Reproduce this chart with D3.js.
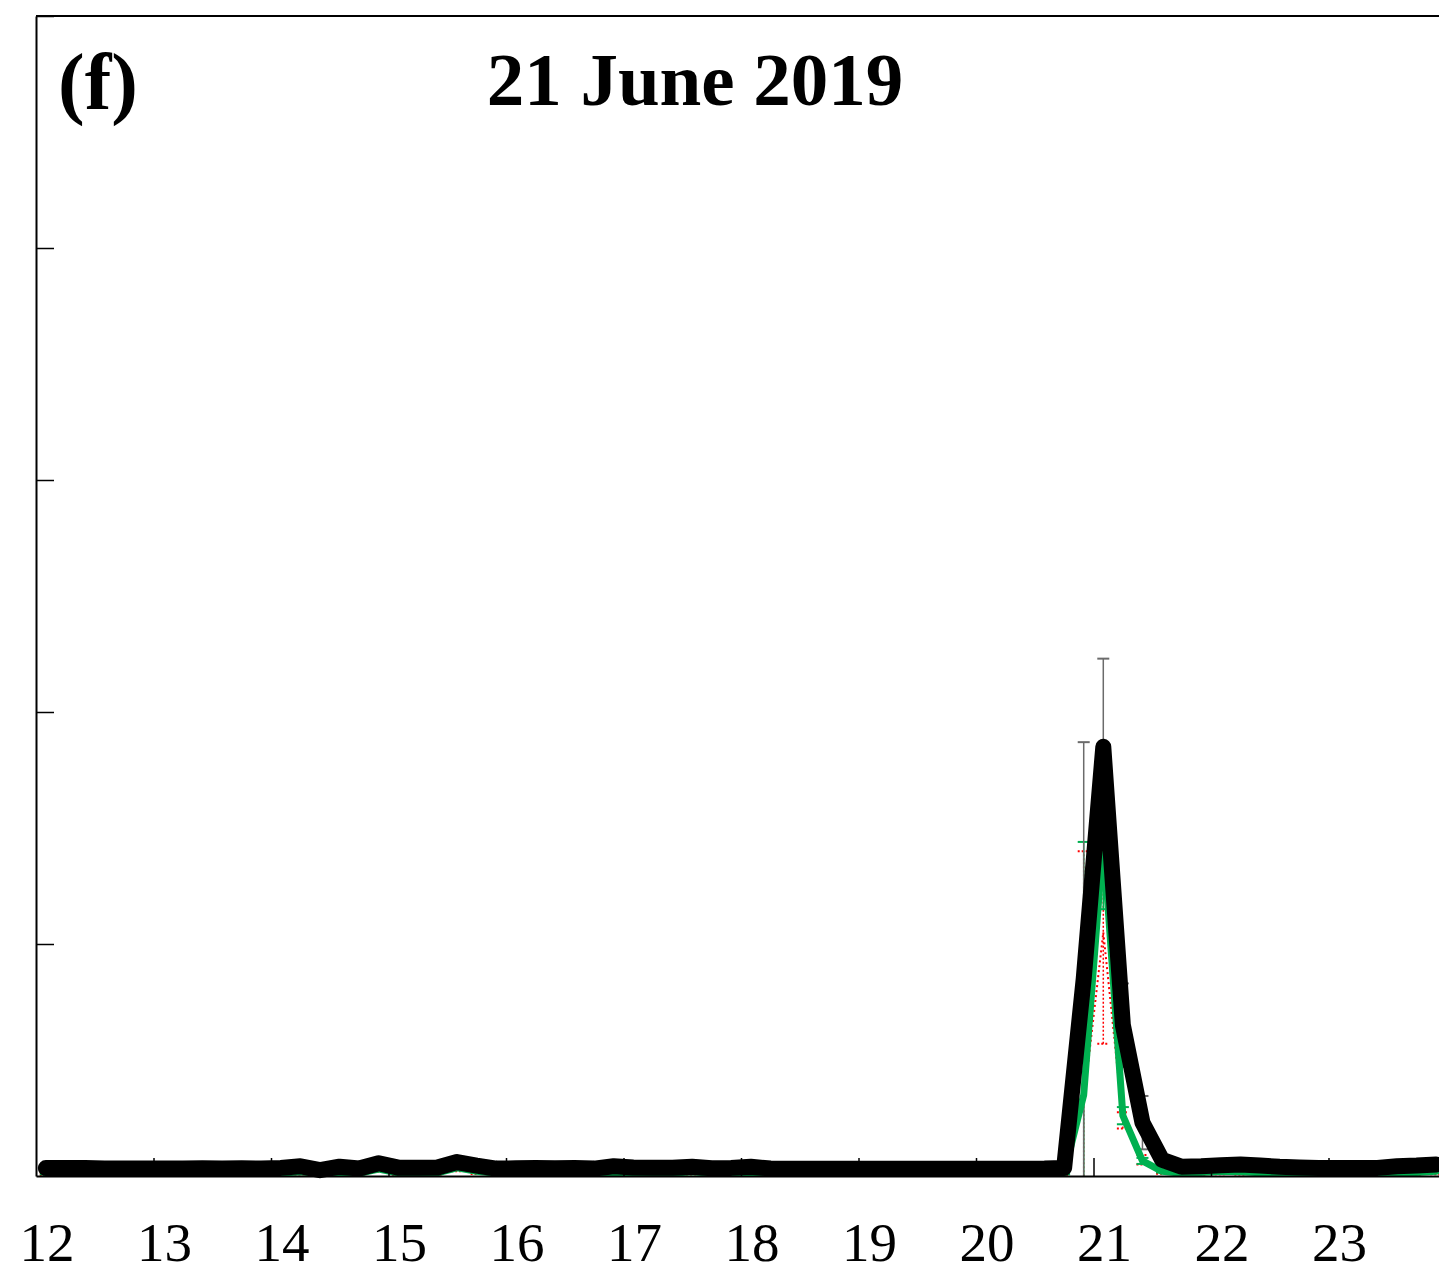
<!DOCTYPE html>
<html>
<head>
<meta charset="utf-8">
<script src="https://cdn.jsdelivr.net/npm/d3@7"></script>
<style>
  html, body { margin: 0; padding: 0; background: #fff; }
  svg { display: block; }
</style>
</head>
<body>
<svg id="chart" width="1439" height="1273"></svg>
<script>
// ---- data ----
const times = [
  "12:05","12:15","12:25","12:35","12:45","12:55",
  "13:05","13:15","13:25","13:35","13:45","13:55",
  "14:05","14:15","14:25","14:35","14:45","14:55",
  "15:05","15:15","15:25","15:35","15:45","15:55",
  "16:05","16:15","16:25","16:35","16:45","16:55",
  "17:05","17:15","17:25","17:35","17:45","17:55",
  "18:05","18:15","18:25","18:35","18:45","18:55",
  "19:05","19:15","19:25","19:35","19:45","19:55",
  "20:05","20:15","20:25","20:35","20:45","20:55",
  "21:05","21:15","21:25","21:35","21:45","21:55",
  "22:05","22:15","22:25","22:35","22:45","22:55",
  "23:05","23:15","23:25","23:35","23:45","23:55"
];
const blackSeries = [
  0.034,0.034,0.035,0.032,0.032,0.032,
  0.032,0.032,0.033,0.032,0.033,0.032,
  0.035,0.042,0.025,0.040,0.032,0.055,
  0.036,0.036,0.037,0.060,0.045,0.032,
  0.033,0.034,0.033,0.034,0.032,0.042,
  0.037,0.036,0.036,0.040,0.033,0.035,
  0.040,0.032,0.031,0.031,0.031,0.031,
  0.031,0.031,0.031,0.031,0.031,0.031,
  0.031,0.031,0.031,0.032,0.035,0.850,
  1.850,0.650,0.230,0.070,0.040,0.042,
  0.046,0.050,0.045,0.040,0.037,0.035,
  0.034,0.034,0.035,0.042,0.045,0.050
];
const blackErr = [
  0.01,0.01,0.01,0.01,0.01,0.01,
  0.01,0.01,0.01,0.01,0.01,0.01,
  0.01,0.01,0.01,0.01,0.01,0.01,
  0.01,0.01,0.01,0.01,0.01,0.01,
  0.01,0.01,0.01,0.01,0.01,0.01,
  0.01,0.01,0.01,0.01,0.01,0.01,
  0.01,0.01,0.01,0.01,0.01,0.01,
  0.01,0.01,0.01,0.01,0.01,0.01,
  0.01,0.01,0.01,0.01,0.01,1.02,
  0.38,0.18,0.115,0.02,0.01,0.01,
  0.01,0.01,0.01,0.01,0.01,0.01,
  0.01,0.01,0.01,0.01,0.01,0.01
];
const greenSeries = [
  0.012,0.012,0.012,0.012,0.012,0.012,
  0.012,0.012,0.012,0.012,0.012,0.012,
  0.012,0.018,0.010,0.016,0.012,0.030,
  0.013,0.013,0.014,0.035,0.020,0.012,
  0.012,0.012,0.012,0.012,0.012,0.015,
  0.013,0.012,0.012,0.018,0.012,0.012,
  0.016,0.012,0.011,0.011,0.011,0.011,
  0.011,0.011,0.011,0.011,0.011,0.011,
  0.011,0.011,0.011,0.011,0.012,0.350,
  1.450,0.260,0.065,0.020,0.012,0.015,
  0.020,0.018,0.014,0.012,0.011,0.011,
  0.011,0.011,0.012,0.014,0.015,0.020
];
const greenErr = [
  0.005,0.005,0.005,0.005,0.005,0.005,
  0.005,0.005,0.005,0.005,0.005,0.005,
  0.005,0.005,0.005,0.005,0.005,0.005,
  0.005,0.005,0.005,0.005,0.005,0.005,
  0.005,0.005,0.005,0.005,0.005,0.005,
  0.005,0.005,0.005,0.005,0.005,0.005,
  0.005,0.005,0.005,0.005,0.005,0.005,
  0.005,0.005,0.005,0.005,0.005,0.005,
  0.005,0.005,0.005,0.005,0.005,1.09,
  0.30,0.037,0.013,0.005,0.005,0.005,
  0.005,0.005,0.005,0.005,0.005,0.005,
  0.005,0.005,0.005,0.005,0.005,0.005
];
const redSeries = [
  0.008,0.008,0.008,0.008,0.008,0.008,
  0.008,0.008,0.008,0.008,0.008,0.008,
  0.008,0.012,0.007,0.011,0.008,0.022,
  0.009,0.009,0.010,0.026,0.014,0.008,
  0.008,0.008,0.008,0.008,0.008,0.010,
  0.009,0.008,0.008,0.012,0.008,0.008,
  0.010,0.008,0.007,0.007,0.007,0.007,
  0.007,0.007,0.007,0.007,0.007,0.007,
  0.007,0.007,0.007,0.007,0.008,0.320,
  1.050,0.240,0.070,0.015,0.008,0.010,
  0.013,0.012,0.010,0.008,0.007,0.007,
  0.007,0.007,0.008,0.009,0.010,0.013
];
const redErr = [
  0.005,0.005,0.005,0.005,0.005,0.005,
  0.005,0.005,0.005,0.005,0.005,0.005,
  0.005,0.005,0.005,0.005,0.005,0.005,
  0.005,0.005,0.005,0.005,0.005,0.005,
  0.005,0.005,0.005,0.005,0.005,0.005,
  0.005,0.005,0.005,0.005,0.005,0.005,
  0.005,0.005,0.005,0.005,0.005,0.005,
  0.005,0.005,0.005,0.005,0.005,0.005,
  0.005,0.005,0.005,0.005,0.005,1.08,
  0.48,0.035,0.02,0.005,0.005,0.005,
  0.005,0.005,0.005,0.005,0.005,0.005,
  0.005,0.005,0.005,0.005,0.005,0.005
];
const xTickValues = [12,13,14,15,16,17,18,19,20,21,22,23];
const xTickLabels = ["12","13","14","15","16","17","18","19","20","21","22","23"];
const yTickValues = [1,2,3,4,5];
const panelLabel = "(f)";
const titleText = "21 June 2019";

// ---- layout ----
const svg = d3.select("#chart");
const mLeft = 36, mRight = 1446, mTop = 16, mBottom = 1176;
const hours = times.map(t => { const [h, m] = t.split(":").map(Number); return h + m / 60; });

const x = d3.scaleLinear().domain([12, 24]).range([mLeft, mRight]);
const y = d3.scaleLinear().domain([0, 5]).range([mBottom, mTop]);

svg.append("defs").append("clipPath").attr("id", "plotclip")
  .append("rect").attr("x", mLeft).attr("y", mTop).attr("width", mRight - mLeft).attr("height", mBottom - mTop);

const makeData = (vals, errs) => vals.map((v, i) => ({ t: hours[i], v, e: errs[i] }));
const blackData = makeData(blackSeries, blackErr);
const greenData = makeData(greenSeries, greenErr);
const redData = makeData(redSeries, redErr);

const errG = svg.append("g").attr("clip-path", "url(#plotclip)");
function drawErr(data, color, width, dash) {
  const g = errG.append("g").attr("stroke", color).attr("stroke-width", width).attr("fill", "none");
  if (dash) g.attr("stroke-dasharray", dash);
  const capW = 6;
  data.forEach(d => {
    const xp = x(d.t), yl = y(d.v - d.e), yh = y(d.v + d.e);
    g.append("line").attr("x1", xp).attr("x2", xp).attr("y1", yl).attr("y2", yh);
    g.append("line").attr("x1", xp - capW).attr("x2", xp + capW).attr("y1", yh).attr("y2", yh).attr("stroke-width", 2);
    g.append("line").attr("x1", xp - capW).attr("x2", xp + capW).attr("y1", yl).attr("y2", yl).attr("stroke-width", 2);
  });
}
drawErr(redData, "#ff0000", 1.5, "2,2");
drawErr(greenData, "#00b050", 1.5, null);
drawErr(blackData, "#6b6b6b", 1.5, null);

const line = d3.line().x(d => x(d.t)).y(d => y(d.v));
const linesG = svg.append("g");
linesG.append("path").datum(redData).attr("d", line)
  .attr("fill", "none").attr("stroke", "#ff0000").attr("stroke-width", 2)
  .attr("stroke-dasharray", "2,3");
linesG.append("path").datum(greenData).attr("d", line)
  .attr("fill", "none").attr("stroke", "#00b050").attr("stroke-width", 7)
  .attr("stroke-linejoin", "round").attr("stroke-linecap", "round");
linesG.append("path").datum(blackData).attr("d", line)
  .attr("fill", "none").attr("stroke", "#000").attr("stroke-width", 16)
  .attr("stroke-linejoin", "round").attr("stroke-linecap", "round");

// ---- axes ----
const yAxis = d3.axisRight(y).tickValues(yTickValues).tickSize(18).tickSizeOuter(0).tickFormat("");
const yG = svg.append("g").attr("transform", `translate(${mLeft},0)`).call(yAxis);
yG.select(".domain").attr("stroke", "#000").attr("stroke-width", 2);
yG.selectAll(".tick line").attr("stroke", "#000").attr("stroke-width", 1.5);

const xAxis = d3.axisTop(x).tickValues(xTickValues.slice(1)).tickSize(18).tickSizeOuter(0).tickFormat("");
const xG = svg.append("g").attr("transform", `translate(0,${mBottom})`).call(xAxis);
xG.select(".domain").attr("stroke", "#000").attr("stroke-width", 2);
xG.selectAll(".tick line").attr("stroke", "#000").attr("stroke-width", 1.5);

svg.append("line").attr("x1", mLeft).attr("x2", mRight).attr("y1", mTop).attr("y2", mTop)
  .attr("stroke", "#000").attr("stroke-width", 2);

svg.append("g").selectAll("text").data(xTickValues).join("text")
  .attr("x", d => x(d) + 11).attr("y", 1261)
  .attr("text-anchor", "middle")
  .attr("font-family", "'Liberation Serif', 'Times New Roman', serif")
  .attr("font-size", 55).attr("fill", "#000")
  .text((d, i) => xTickLabels[i]);

svg.append("text").attr("x", 58).attr("y", 109)
  .attr("font-family", "'Liberation Serif', 'Times New Roman', serif")
  .attr("font-weight", "bold").attr("font-size", 80).attr("fill", "#000")
  .text(panelLabel);

svg.append("text").attr("x", 695).attr("y", 105).attr("text-anchor", "middle")
  .attr("font-family", "'Liberation Serif', 'Times New Roman', serif")
  .attr("font-weight", "bold").attr("font-size", 75).attr("fill", "#000")
  .text(titleText);
</script>
</body>
</html>
